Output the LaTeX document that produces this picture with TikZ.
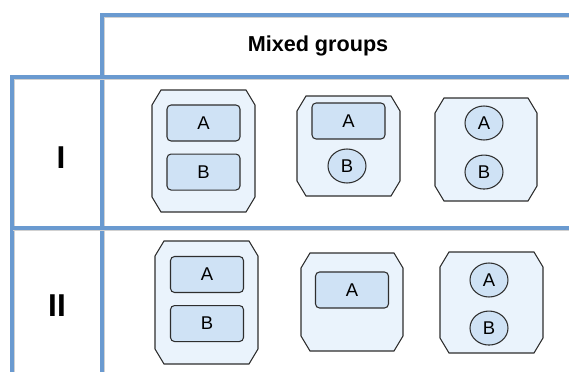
\documentclass[tikz,border=0pt]{standalone}
\usepackage{fontspec}
\setmainfont{Liberation Sans}
\usepackage{xcolor}
\usetikzlibrary{shapes.geometric, positioning}

\definecolor{luoi}{HTML}{6A9AD0}
\definecolor{nen}{HTML}{EAF3FC}
\definecolor{phan}{HTML}{CFE2F5}
\definecolor{vien}{HTML}{2E2E2E}

\tikzset{
    ke/.style={line width=1.9pt, draw=luoi,
        preaction={draw=black!18, line width=2.3pt, transform canvas={shift={(0.6pt,-0.7pt)}}}},
    nhom/.style={draw=vien, fill=nen, line width=0.6pt},
    hop/.style={rectangle, rounded corners=2.3pt, draw=vien, fill=phan, line width=0.6pt,
        minimum width=1.46cm, minimum height=0.72cm, inner sep=0pt, font=\fontsize{10.5}{12}\selectfont},
    tron/.style={ellipse, draw=vien, fill=phan, line width=0.6pt,
        minimum width=0.76cm, minimum height=0.68cm, inner sep=0pt, font=\fontsize{10.5}{12}\selectfont},
    hang/.style={font=\fontsize{18}{20}\selectfont\bfseries}
}

% khung bát giác: tên, tâm x, tâm y, rộng, cao
\newcommand{\khung}[5]{%
    \coordinate (#1) at (#2,#3);
    \draw[nhom] ({#2-#4/2+9},{#3-#5/2}) -- ({#2+#4/2-9},{#3-#5/2})
        -- ({#2+#4/2},{#3-#5/2+15}) -- ({#2+#4/2},{#3+#5/2-15})
        -- ({#2+#4/2-9},{#3+#5/2}) -- ({#2-#4/2+9},{#3+#5/2})
        -- ({#2-#4/2},{#3+#5/2-15}) -- ({#2-#4/2},{#3-#5/2+15}) -- cycle;
}

\begin{document}
\begin{tikzpicture}[x=0.02cm, y=-0.02cm]
    \useasboundingbox (0,0) rectangle (569,372);

    % Khung bảng
    \draw[ke] (102,372) -- (102,15) -- (569,15);
    \draw[ke] (12,372) -- (12,77) -- (569,77);
    \draw[ke] (12,228) -- (569,228);

    \node[font=\fontsize{12.3}{14}\selectfont\bfseries] (tieude) at (318,46) {Mixed groups};
    \node[hang] (h1) at (61,158) {I};
    \node[hang] (h2) at (57,306) {II};

    % Hàng I
    \khung{g11}{203.5}{151}{103}{122}
    \node[hop] (a11) at (203.5,123) {A};
    \node[hop, below=0.24cm of a11] (b11) {B};

    \khung{g12}{348.5}{146}{103}{100}
    \node[hop] (a12) at (348.5,121) {A};
    \node[tron] (b12) at (347,166) {B};

    \khung{g13}{486}{149.5}{102}{103}
    \node[tron] (a13) at (484,123) {A};
    \node[tron, below=0.28cm of a13] (b13) {B};

    % Hàng II
    \khung{g21}{206.5}{302.5}{103}{123}
    \node[hop] (a21) at (207,274.5) {A};
    \node[hop, below=0.24cm of a21] (b21) {B};

    \khung{g22}{352}{302}{102}{98}
    \node[hop] (a22) at (352,290) {A};

    \khung{g23}{491.5}{302.5}{103}{101}
    \node[tron] (a23) at (489,280) {A};
    \node[tron, below=0.26cm of a23] (b23) {B};
\end{tikzpicture}
\end{document}
